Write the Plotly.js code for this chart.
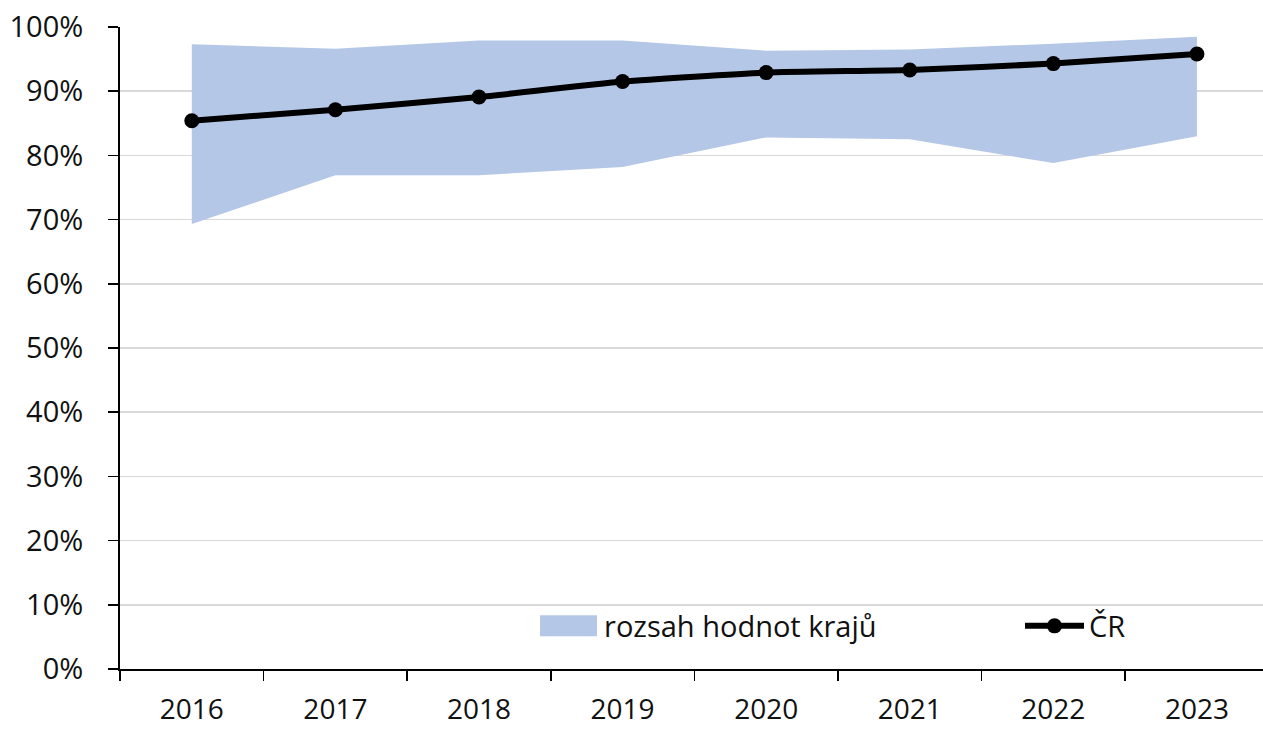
<!DOCTYPE html>
<html>
<head>
<meta charset="utf-8">
<script src="https://cdn.plot.ly/plotly-3.0.1.min.js"></script>
<style>html,body{margin:0;padding:0;background:#fff;}#chart{width:1263px;height:729px;}</style>
</head>
<body>
<div id="chart"></div>
<script>
const years = ['2016','2017','2018','2019','2020','2021','2022','2023'];
const crValues = [0.854, 0.871, 0.891, 0.915, 0.929, 0.933, 0.943, 0.958];
const rangeMin = [0.693, 0.769, 0.769, 0.782, 0.828, 0.825, 0.788, 0.830];
const rangeMax = [0.973, 0.966, 0.979, 0.979, 0.963, 0.965, 0.974, 0.985];
const yTickVals = [0,0.1,0.2,0.3,0.4,0.5,0.6,0.7,0.8,0.9,1.0];
const yTickText = ['0%','10%','20%','30%','40%','50%','60%','70%','80%','90%','100%'];
const areaName = 'rozsah hodnot krajů';
const lineName = 'ČR';

const font = {family: '"Open Sans", "Noto Sans", sans-serif', size: 29, color: '#111111'};
const xFont = {family: '"Open Sans", "Noto Sans", sans-serif', size: 28, color: '#111111'};

const traces = [
  {x: years, y: rangeMin, type: 'scatter', mode: 'lines', line: {width: 0, color: 'rgba(0,0,0,0)'},
   showlegend: false, hoverinfo: 'skip'},
  {x: years, y: rangeMax, type: 'scatter', mode: 'lines', fill: 'tonexty',
   fillcolor: '#b4c7e7', line: {width: 0, color: '#b4c7e7'}, name: areaName, legend: 'legend'},
  {x: years, y: crValues, type: 'scatter', mode: 'lines+markers', name: lineName,
   line: {color: '#000000', width: 6, shape: 'spline', smoothing: 0.5},
   marker: {color: '#000000', size: 15}, legend: 'legend2'}
];

const layout = {
  width: 1263, height: 729,
  margin: {l: 120, r: 0, t: 27, b: 60},
  paper_bgcolor: '#ffffff', plot_bgcolor: '#ffffff',
  font: font,
  xaxis: {
    type: 'category', range: [-0.5, 7.46], tickson: 'boundaries',
    ticks: 'outside', ticklen: 10, tickwidth: 1.5, tickcolor: '#000',
    showline: true, linecolor: '#000', linewidth: 2, showgrid: false, zeroline: false,
    ticklabelstandoff: 14, tickfont: xFont
  },
  yaxis: {
    range: [0, 1], tickvals: yTickVals, ticktext: yTickText,
    ticks: 'outside', ticklen: 10, tickwidth: 1.5, tickcolor: '#000',
    showline: true, linecolor: '#000', linewidth: 2,
    showgrid: true, gridcolor: '#d9d9d9', gridwidth: 1.5, zeroline: false,
    ticklabelstandoff: 19, tickfont: font
  },
  legend: {x: 0.3631, y: 0.067, xanchor: 'left', yanchor: 'middle', bgcolor: 'rgba(0,0,0,0)', font: font, itemwidth: 59},
  legend2: {x: 0.7874, y: 0.067, xanchor: 'left', yanchor: 'middle', bgcolor: 'rgba(0,0,0,0)', font: font, itemwidth: 59},
  showlegend: true
};

Plotly.newPlot('chart', traces, layout, {displayModeBar: false, staticPlot: true}).then(function (gd) {
  // enlarge legend symbols to match the reference swatches
  gd.querySelectorAll('g.traces').forEach(function (g) {
    const txt = (g.querySelector('text.legendtext') || {}).textContent || '';
    if (txt === areaName) {
      g.querySelectorAll('.legendfill path').forEach(function (p) {
        p.setAttribute('d', 'M5,-10.5h57v21h-57z');
      });
    } else if (txt === lineName) {
      g.querySelectorAll('.legendlines path').forEach(function (p) {
        p.setAttribute('d', 'M5,0h60');
      });
      g.querySelectorAll('.legendpoints path').forEach(function (p) {
        p.setAttribute('transform', 'translate(35,0)');
      });
    }
  });
});
</script>
</body>
</html>
